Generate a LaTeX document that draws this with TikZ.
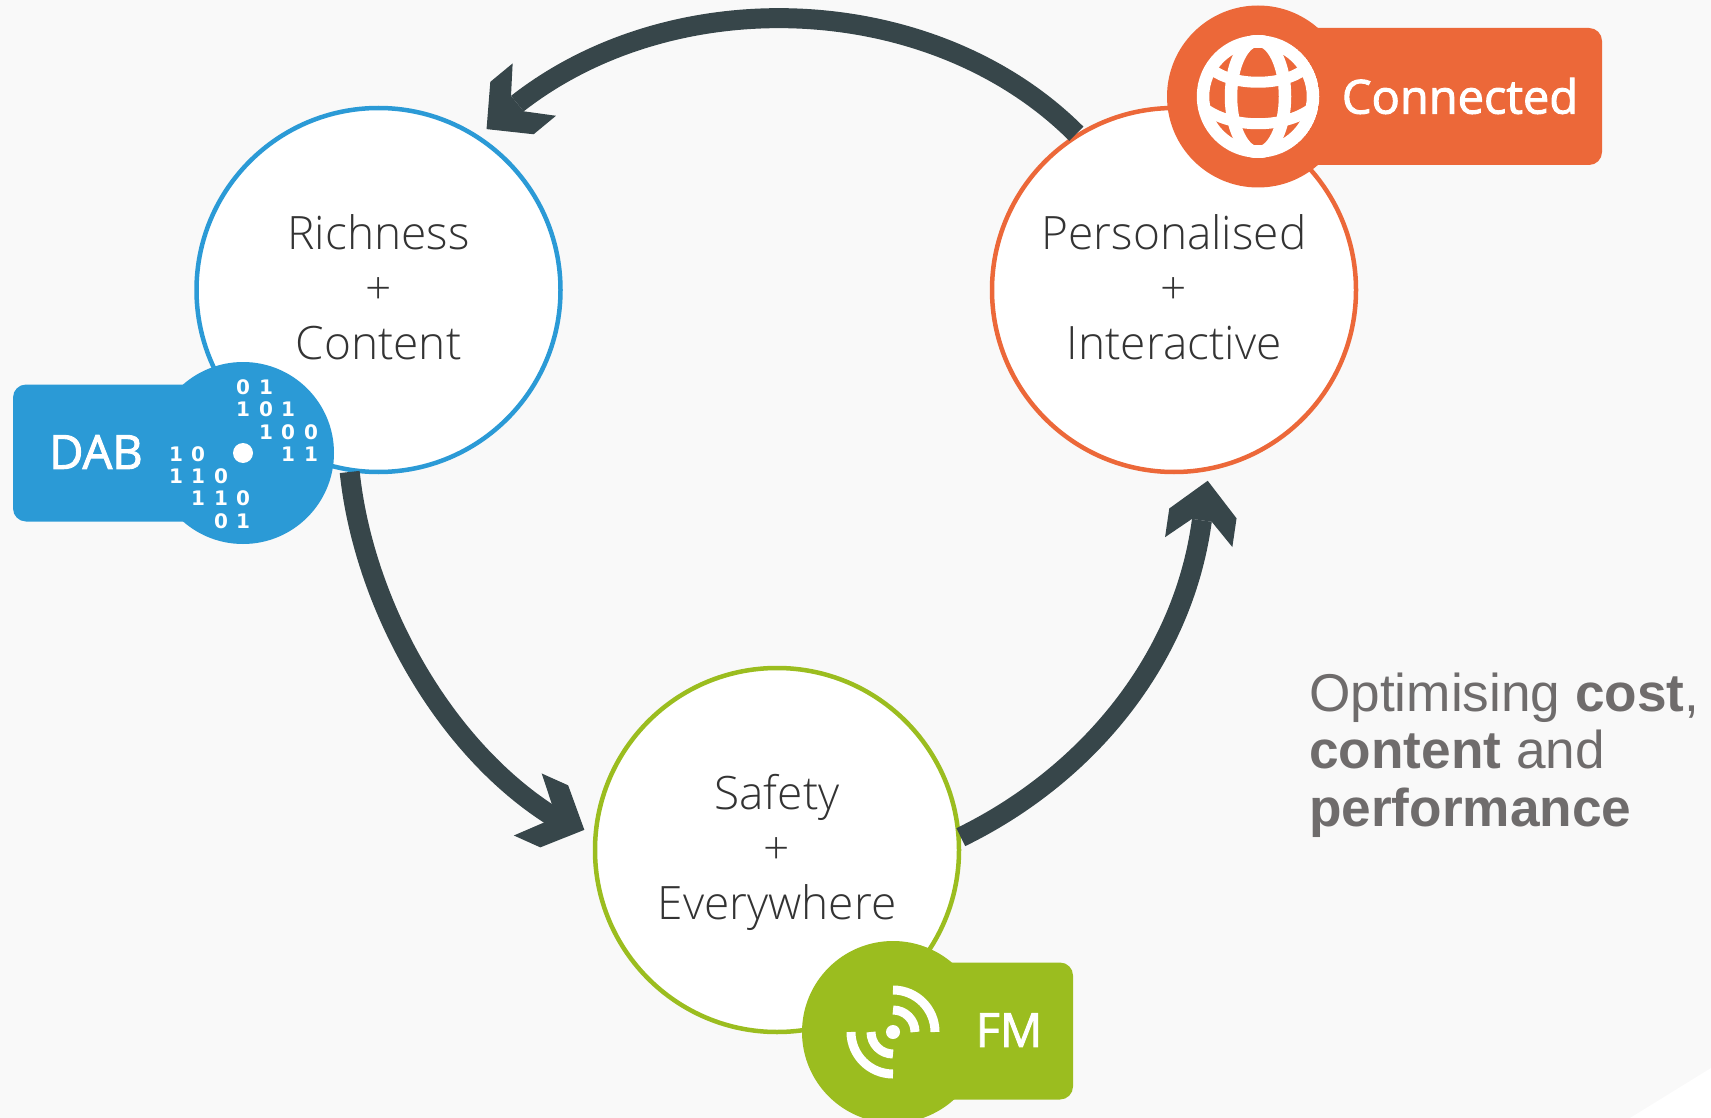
\documentclass[tikz,border=0pt]{standalone}
\usepackage{fontspec}
\setmainfont{Open Sans}
\newfontfamily\ringfont{Open Sans Light}
\newfontfamily\badgefont[FakeBold=2]{Open Sans}
\newfontfamily\bitfont{DejaVu Sans}
\newfontfamily\notefont{Liberation Sans}
\definecolor{PageGrey}{HTML}{F9F9F9}
\definecolor{RichBlue}{HTML}{2B9AD6}
\definecolor{LinkOrange}{HTML}{EC6839}
\definecolor{RadioGreen}{HTML}{9BBD1F}
\definecolor{CycleDark}{HTML}{37464A}
\definecolor{NoteGrey}{HTML}{6F6C6C}
\definecolor{RingText}{HTML}{333333}
\usetikzlibrary{arrows.meta, positioning}
\newcommand{\ringtop}{\rule{0pt}{40pt}}
\newcommand{\ringbot}{\rule[-11.4pt]{0pt}{11.4pt}}
\pgfdeclarearrow{
  name=ChevronHead,
  setup code={\pgfarrowssettipend{0pt}\pgfarrowssetlineend{-40pt}\pgfarrowssetvisualbackend{-62pt}\pgfarrowssetbackend{-62pt}\pgfarrowshullpoint{0pt}{0pt}\pgfarrowshullpoint{-62pt}{34pt}\pgfarrowshullpoint{-62pt}{-34pt}},
  drawing code={\pgfpathmoveto{\pgfpoint{0pt}{0pt}}\pgfpathlineto{\pgfpoint{-33pt}{34pt}}\pgfpathlineto{\pgfpoint{-62pt}{34pt}}\pgfpathlineto{\pgfpoint{-40pt}{10pt}}\pgfpathlineto{\pgfpoint{-40pt}{-10pt}}\pgfpathlineto{\pgfpoint{-62pt}{-34pt}}\pgfpathlineto{\pgfpoint{-33pt}{-34pt}}\pgfpathclose\pgfusepathqfill},
  defaults={}
}
\tikzset{
  % Ring and badge styles
  ringnode/.style={circle, line width=4.5pt, fill=white, minimum size=364pt, inner sep=0pt, text=RingText, align=center, font=\ringfont\fontsize{46}{55}\selectfont},
  badgedisc/.style={circle, minimum size=182pt, inner sep=0pt, outer sep=0pt},
  badgebox/.style={rectangle, rounded corners=13pt, minimum height=137pt, inner sep=0pt, outer sep=0pt},
  badgetext/.style={text=white, inner sep=0pt, font=\badgefont\fontsize{47}{55}\selectfont},
  bitnode/.style={text=white, inner sep=0pt, font=\bitfont\bfseries\fontsize{20}{20}\selectfont},
  % Connector and icon styles
  cyclearrow/.style={-{ChevronHead}, line width=20pt, CycleDark, shorten >=10pt},
  globeline/.style={draw=white, line width=12.5pt},
  radioline/.style={draw=white, line width=9pt},
  notenode/.style={anchor=west, align=left, inner sep=0pt, text=NoteGrey, font=\notefont\fontsize{53.2}{57.5}\selectfont}
}
\begin{document}
\begin{tikzpicture}[x=1pt, y=-1pt]
  \useasboundingbox (0,0) rectangle (1711,1118);
  \clip (0,0) rectangle (1711,1118);
  \fill[PageGrey] (0,0) rectangle (1711,1118);
  \fill[white] (1711,1068) -- (1711,1118) -- (1630,1118) -- cycle;

  % Three rings
  \node[ringnode, draw=RichBlue] (richness) at (378.5,290) {\ringtop Richness\\+\\Content\ringbot};
  \node[ringnode, draw=LinkOrange] (personal) at (1174,290) {\ringtop Personalised\\+\\Interactive\ringbot};
  \node[ringnode, draw=RadioGreen] (safety) at (777,850) {\ringtop Safety\\+\\Everywhere\ringbot};

  % Cycle arrows, each with a short straight run into its head
  \coordinate (richhead) at (517.5,103.5);
  \coordinate (safehead) at (549,814);
  \coordinate (perhead) at (1201.5,523);
  \draw[cyclearrow] (personal.122) to[out=135, in=38, looseness=0.92] (richhead) -- (richness.57.2);
  \draw[cyclearrow] (richness.-99.7) to[out=-84, in=147, looseness=0.84] (safehead) -- (safety.175.4);
  \draw[cyclearrow] (safety.4) to[out=26, in=-98, looseness=0.9] (perhead) -- (personal.-79.5);

  % DAB badge
  \node[badgebox, fill=RichBlue, minimum width=230pt] (dabbox) at (128,453) {};
  \node[badgedisc, fill=RichBlue] (dabdisc) at (243,453) {};
  \node[badgetext] (dablabel) at (96,452) {DAB};
  \fill[white] (dabdisc.center) circle (10pt);
  \foreach \px/\py/\digit [count=\i] in {243/387/0, 266/387/1, 243/409/1, 266/409/0, 288/409/1,
      266/432/1, 288/432/0, 311/432/0, 288/454/1, 311/454/1, 176/454/1, 198/454/0,
      176/476/1, 198/476/1, 221/476/0, 198/498/1, 221/498/1, 243/498/0, 221/521/0, 243/521/1}
    \node[bitnode] (bit\i) at (\px,\py) {\digit};

  % Connected badge
  \node[badgebox, fill=LinkOrange, minimum width=344pt] (linkbox) at (1430,96.5) {};
  \node[badgedisc, fill=LinkOrange] (linkdisc) at (1258,96.5) {};
  \node[badgetext] (linklabel) at (1460,96) {Connected};
  \begin{scope}[shift={(linkdisc.center)}]
    \clip (0,0) circle (61.5pt);
    \draw[globeline] (0,0) circle (55pt);
    \draw[globeline] (0,0) ellipse (27pt and 56pt);
    \draw[globeline, line width=11pt] (-46,-27) .. controls (-25,-10) and (25,-10) .. (46,-27);
    \draw[globeline, line width=11pt] (-52,13) .. controls (-25,32) and (25,32) .. (52,13);
  \end{scope}

  % FM badge
  \node[badgebox, fill=RadioGreen, minimum width=180pt] (fmbox) at (983,1031) {};
  \node[badgedisc, fill=RadioGreen] (fmdisc) at (893,1032) {};
  \node[badgetext] (fmlabel) at (1009,1030) {FM};
  \begin{scope}[shift={(fmdisc.center)}]
    \fill[white] (0,0) circle (7pt);
    \draw[radioline] (0,-42) arc[start angle=90, end angle=0, radius=42pt];
    \draw[radioline] (0,-22) arc[start angle=90, end angle=0, radius=22pt];
    \draw[radioline] (0,42) arc[start angle=270, end angle=180, radius=42pt];
    \draw[radioline] (0,22) arc[start angle=270, end angle=180, radius=22pt];
  \end{scope}

  % Side note
  \node[notenode] (sidenote) at (1309,755) {Optimising \textbf{cost},\\\textbf{content} and\\\textbf{performance}};
\end{tikzpicture}
\end{document}
